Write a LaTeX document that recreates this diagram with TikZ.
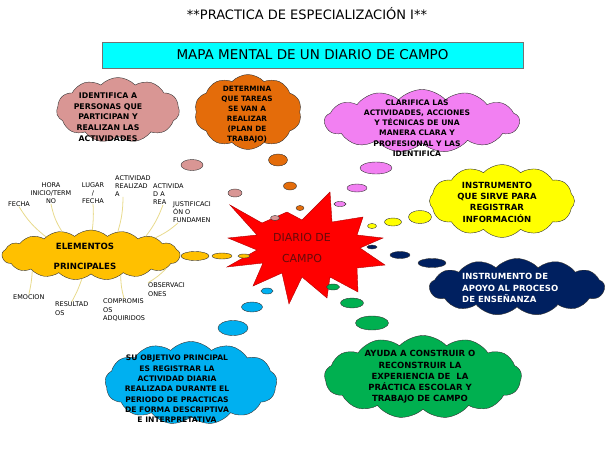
\documentclass[tikz,border=0pt]{standalone}
\usepackage{fontspec}
\setmainfont{DejaVu Sans}
\usepackage{xcolor}
\usepackage{tikz}
\usetikzlibrary{shapes}
\definecolor{diariopink}{RGB}{217,150,148}
\definecolor{diarioorange}{RGB}{228,108,10}
\definecolor{diariomagenta}{RGB}{242,128,242}
\definecolor{diarioyellow}{RGB}{255,255,0}
\definecolor{diarionavy}{RGB}{0,32,96}
\definecolor{diariogreen}{RGB}{0,176,80}
\definecolor{diarioblue}{RGB}{0,176,240}
\definecolor{diariogold}{RGB}{255,192,0}
\definecolor{diariored}{RGB}{255,0,0}
\definecolor{diariotext}{RGB}{105,10,10}
\definecolor{diariocyan}{RGB}{0,255,255}
\definecolor{diarioleaf}{RGB}{232,218,140}

\begin{document}
\begin{tikzpicture}[x=1pt, y=-1pt]
    \tikzstyle{nube} = [cloud, cloud puffs=13, cloud puff arc=95, cloud ignores aspect, draw=black!80, thin, inner sep=0pt]
    \tikzstyle{texto} = [align=center, inner sep=0pt, font=\bfseries\fontsize{8}{10.5}\selectfont]
    \tikzstyle{burbuja} = [ellipse, draw=black!80, thin, inner sep=0pt]
    \tikzstyle{hoja} = [align=left, inner sep=0pt, font=\fontsize{6.5}{8.3}\selectfont]
    \tikzstyle{rama} = [draw=diarioleaf, line width=0.8pt]

    \useasboundingbox (0,0) rectangle (614,475);

    % titulo
    \node (titulo) [font=\fontsize{13}{15}\selectfont] at (307,14) {**PRACTICA DE ESPECIALIZACIÓN I**};
    \node (mapa) [rectangle, draw=black!55, fill=diariocyan, minimum width=421, minimum height=26, font=\fontsize{13.5}{15}\selectfont] at (312.5,55) {MAPA MENTAL DE UN DIARIO DE CAMPO};

    % nubes
    \node (identifica) [nube, cloud puffs=11, fill=diariopink, minimum width=123, minimum height=65] at (118,110) {};
    \node (identificatxt) [texto, font=\bfseries\fontsize{7.8}{10.7}\selectfont] at (108,117) {IDENTIFICA A\\PERSONAS QUE\\PARTICIPAN Y\\REALIZAN LAS\\ACTIVIDADES};

    \node (determina) [nube, cloud puffs=10, fill=diarioorange, minimum width=107, minimum height=75] at (248,112) {};
    \node (determinatxt) [texto, font=\bfseries\fontsize{7.3}{10}\selectfont] at (247,115) {DETERMINA\\QUE TAREAS\\SE VAN A\\REALIZAR\\(PLAN DE\\TRABAJO)};

    \node (clarifica) [nube, fill=diariomagenta, minimum width=195, minimum height=63] at (422,121) {};
    \node (clarificatxt) [texto, font=\bfseries\fontsize{7.6}{10.3}\selectfont] at (417,128) {CLARIFICA LAS\\ACTIVIDADES, ACCIONES\\Y TÉCNICAS DE UNA\\MANERA CLARA Y\\PROFESIONAL Y LAS\\IDENTIFICA};

    \node (registrar) [nube, cloud puffs=12, fill=diarioyellow, minimum width=145, minimum height=73] at (502,201) {};
    \node (registrartxt) [texto, font=\bfseries\fontsize{8.5}{11.3}\selectfont] at (497,202) {INSTRUMENTO\\QUE SIRVE PARA\\REGISTRAR\\INFORMACIÓN};

    \node (apoyo) [nube, fill=diarionavy, minimum width=175, minimum height=57] at (517,287) {};
    \node (apoyotxt) [texto, align=left, anchor=west, text=white, font=\bfseries\fontsize{8.5}{11.5}\selectfont] at (462,288) {INSTRUMENTO DE\\APOYO AL PROCESO\\DE ENSEÑANZA};

    \node (ayuda) [nube, fill=diariogreen, minimum width=197, minimum height=83] at (423,377) {};
    \node (ayudatxt) [texto, font=\bfseries\fontsize{8.5}{11.3}\selectfont] at (420,377) {AYUDA A CONSTRUIR O\\RECONSTRUIR LA\\EXPERIENCIA DE~ LA\\PRÁCTICA ESCOLAR Y\\TRABAJO DE CAMPO};

    \node (objetivo) [nube, fill=diarioblue, minimum width=172, minimum height=83] at (191,383) {};
    \node (objetivotxt) [texto, font=\bfseries\fontsize{7.6}{10.3}\selectfont] at (177,389) {SU OBJETIVO PRINCIPAL\\ES REGISTRAR LA\\ACTIVIDAD DIARIA\\REALIZADA DURANTE EL\\PERIODO DE PRACTICAS\\DE FORMA DESCRIPTIVA\\E INTERPRETATIVA};

    \node (elementos) [nube, cloud puffs=17, cloud puff arc=85, fill=diariogold, minimum width=178, minimum height=50] at (91,255) {};
    \node (elementostxt) [texto, font=\bfseries\fontsize{8.6}{20}\selectfont] at (85,256) {ELEMENTOS\\PRINCIPALES};

    % estrella central
    \draw [fill=diariored, draw=red!70!black, thin] (230,205) -- (262,223) -- (287,212) -- (302,220) -- (330,192) -- (332,222) -- (363,217) -- (357,235) -- (383,238) -- (360,248) -- (385,265) -- (357,268) -- (358,292) -- (330,277) -- (327,298) -- (302,277) -- (289,304) -- (282,273) -- (253,286) -- (263,263) -- (227,267) -- (257,250) -- (228,238) -- (257,235) -- cycle;
    \node (diario) [align=center, text=diariotext, font=\fontsize{11}{21}\selectfont] at (302,248) {DIARIO DE\\CAMPO};

    % burbujas
    \node (rosa1) [burbuja, fill=diariopink, minimum width=9, minimum height=5] at (275,218) {};
    \node (rosa2) [burbuja, fill=diariopink, minimum width=14, minimum height=8] at (235,193) {};
    \node (rosa3) [burbuja, fill=diariopink, minimum width=22, minimum height=11] at (192,165) {};
    \node (naranja1) [burbuja, fill=diarioorange, minimum width=8, minimum height=5] at (300,208) {};
    \node (naranja2) [burbuja, fill=diarioorange, minimum width=13, minimum height=8] at (290,186) {};
    \node (naranja3) [burbuja, fill=diarioorange, minimum width=19, minimum height=12] at (278,160) {};
    \node (magenta1) [burbuja, fill=diariomagenta, minimum width=12, minimum height=5] at (340,204) {};
    \node (magenta2) [burbuja, fill=diariomagenta, minimum width=20, minimum height=8] at (357,188) {};
    \node (magenta3) [burbuja, fill=diariomagenta, minimum width=32, minimum height=12] at (376,168) {};
    \node (amarillo1) [burbuja, fill=diarioyellow, minimum width=9, minimum height=5] at (372,226) {};
    \node (amarillo2) [burbuja, fill=diarioyellow, minimum width=17, minimum height=8] at (393,222) {};
    \node (amarillo3) [burbuja, fill=diarioyellow, minimum width=23, minimum height=13] at (420,217) {};
    \node (marino1) [burbuja, fill=diarionavy, minimum width=10, minimum height=4] at (372,247) {};
    \node (marino2) [burbuja, fill=diarionavy, minimum width=20, minimum height=7] at (400,255) {};
    \node (marino3) [burbuja, fill=diarionavy, minimum width=28, minimum height=9] at (432,263) {};
    \node (verde1) [burbuja, fill=diariogreen, minimum width=13, minimum height=6] at (333,287) {};
    \node (verde2) [burbuja, fill=diariogreen, minimum width=23, minimum height=10] at (352,303) {};
    \node (verde3) [burbuja, fill=diariogreen, minimum width=33, minimum height=14] at (372,323) {};
    \node (azul1) [burbuja, fill=diarioblue, minimum width=12, minimum height=6] at (267,291) {};
    \node (azul2) [burbuja, fill=diarioblue, minimum width=21, minimum height=10] at (252,307) {};
    \node (azul3) [burbuja, fill=diarioblue, minimum width=30, minimum height=15] at (233,328) {};
    \node (oro1) [burbuja, fill=diariogold, minimum width=12, minimum height=4] at (244,256) {};
    \node (oro2) [burbuja, fill=diariogold, minimum width=20, minimum height=6] at (222,256) {};
    \node (oro3) [burbuja, fill=diariogold, minimum width=28, minimum height=9] at (195,256) {};

    % elementos principales
    \node (fecha) [hoja, anchor=west] at (8,204) {FECHA};
    \node (hora) [hoja, align=center] at (51,193) {HORA\\INICIO/TERM\\NO};
    \node (lugar) [hoja, align=center] at (93,193) {LUGAR\\/\\FECHA};
    \node (actividad) [hoja, anchor=west] at (115,186) {ACTIVIDAD\\REALIZAD\\A};
    \node (actividada) [hoja, anchor=west] at (153,194) {ACTIVIDA\\D A\\REA};
    \node (justificacion) [hoja, anchor=west] at (173,212) {JUSTIFICACI\\ÓN O\\FUNDAMEN};
    \node (emocion) [hoja, anchor=west] at (13,297) {EMOCION};
    \node (resultados) [hoja, anchor=west] at (55,308.5) {RESULTAD\\OS};
    \node (compromisos) [hoja, anchor=west] at (103,310) {COMPROMIS\\OS\\ADQUIRIDOS};
    \node (observaciones) [hoja, anchor=west] at (148,289.5) {OBSERVACI\\ONES};

    \draw [rama] (fecha.south) to[bend right=10] (elementos.158);
    \draw [rama] (hora.south) to[bend right=10] (elementos.141);
    \draw [rama] (lugar.south) to[bend left=5] (elementos.87);
    \draw [rama] (actividad.south west) ++(8,0) to[bend left=8] (elementos.41);
    \draw [rama] (actividada.south west) ++(10,0) to[bend left=8] (elementos.19);
    \draw [rama] (justificacion.south west) ++(5,0) to[bend left=8] (elementos.15);
    \draw [rama] (elementos.-10) to[bend left=8] (observaciones.north west);
    \draw [rama] (elementos.-34) to[bend right=8] (compromisos.north);
    \draw [rama] (elementos.-111) to[bend left=5] (resultados.north);
    \draw [rama] (elementos.-165) to[bend left=5] (emocion.north);
\end{tikzpicture}
\end{document}
